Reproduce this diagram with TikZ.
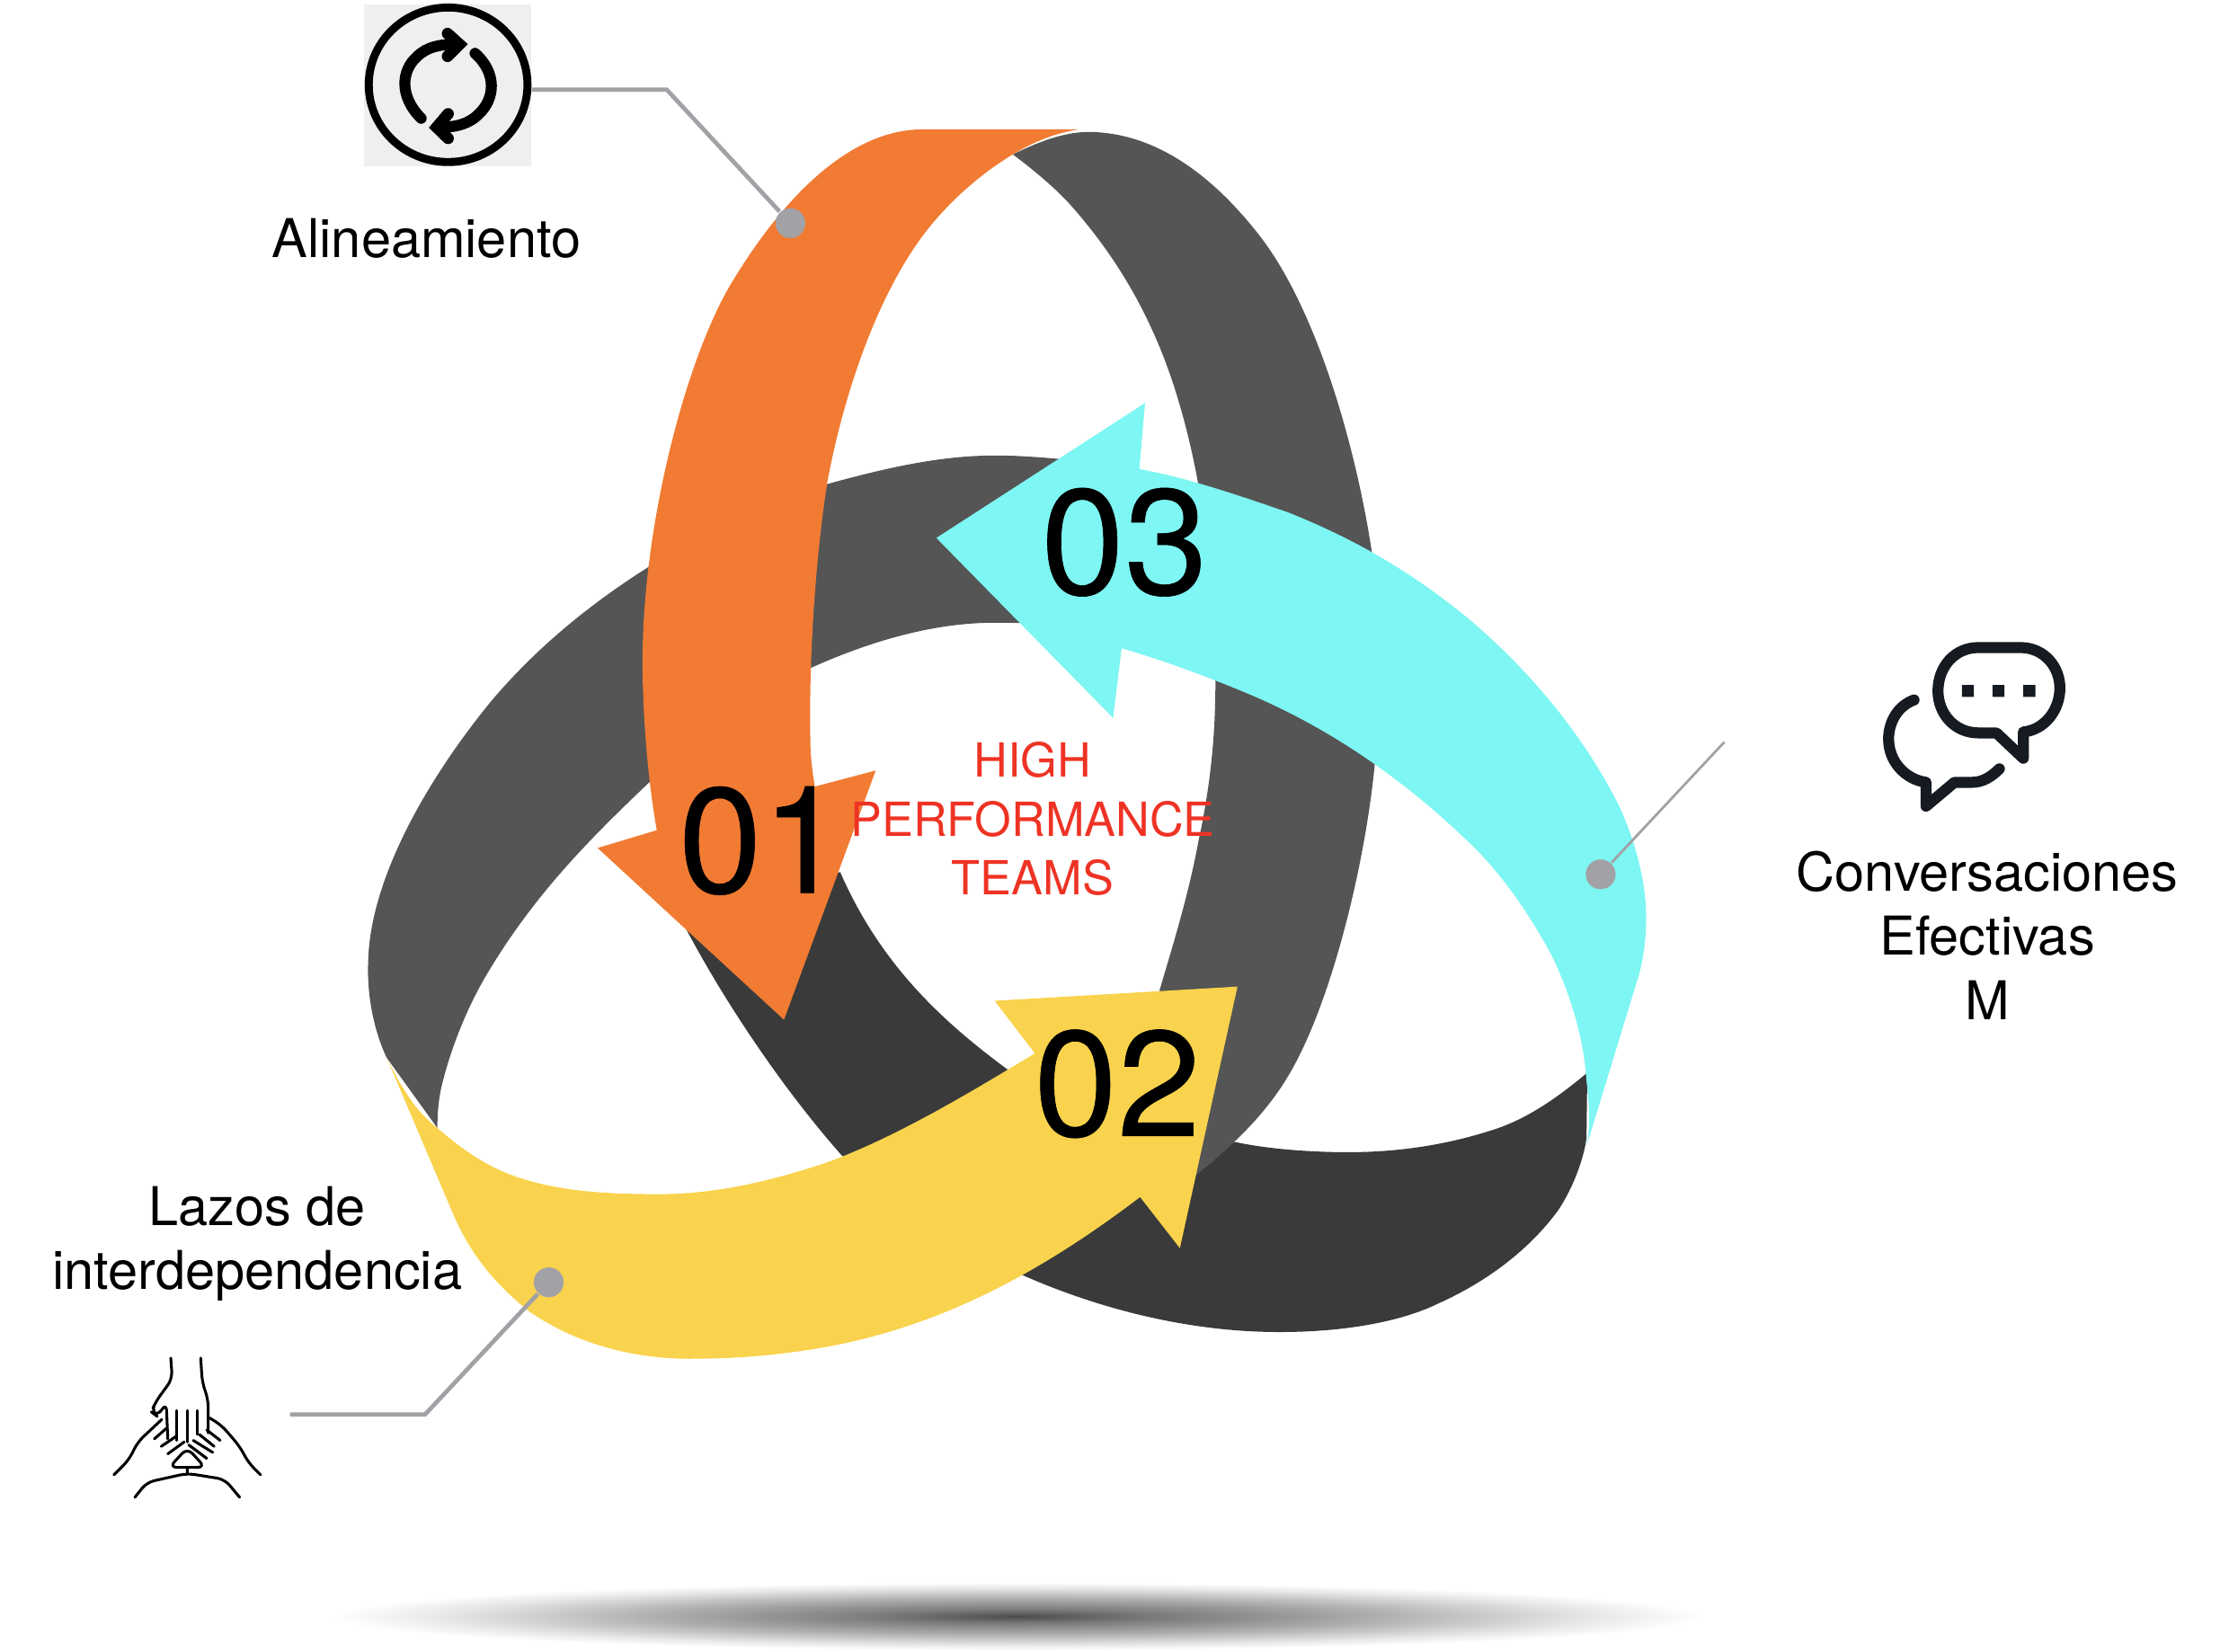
\documentclass[tikz,border=0pt]{standalone}
\usepackage{fontspec}
\setmainfont{TeX Gyre Heros}
\newfontfamily\numfont[FakeBold=0.35]{TeX Gyre Heros}
\definecolor{bandA}{HTML}{555555}
\definecolor{bandB}{HTML}{3A3A3A}
\definecolor{orangeA}{HTML}{F17B33}
\definecolor{yellowA}{HTML}{F9D34D}
\definecolor{cyanA}{HTML}{7EF6F3}
\definecolor{connC}{HTML}{A2A2A6}
\definecolor{redT}{HTML}{EE3324}
\definecolor{chatC}{HTML}{161B22}
\definecolor{iconBg}{HTML}{EFEFEF}
\pgfdeclareradialshading{floorshadow}{\pgfpoint{0bp}{0bp}}{color(0bp)=(black!70!white); color(5bp)=(black!52!white); color(13bp)=(black!32!white); color(21bp)=(black!9!white); color(25bp)=(white); color(50bp)=(white)}
\tikzset{
  conn/.style={draw=connC,line width=0.85pt},
  connthin/.style={draw=connC,line width=0.5pt},
  dotn/.style={circle,fill=connC,inner sep=0pt,minimum size=0.21cm},
  lab/.style={font=\fontsize{10.7pt}{12.8pt}\selectfont,align=center,text=black},
  numb/.style={font=\numfont\fontsize{30pt}{30pt}\selectfont,text=black,inner sep=0pt,anchor=base},
  redlab/.style={font=\fontsize{9.4pt}{11.8pt}\selectfont,align=center,text=redT},
  chat/.style={draw=chatC,line width=2.2pt,line cap=round,line join=round},
  handl/.style={draw=black,line width=0.55pt,line cap=round,line join=round,rounded corners=1.5pt},
}
\begin{document}
\begin{tikzpicture}[x=0.01cm,y=-0.01cm]
\useasboundingbox (0,0) rectangle (1568,1162);
% floor shadow
\shade[shading=floorshadow] (716,1137) ellipse [x radius=482,y radius=24];
% dark lower band
\fill[bandB] (482.6,653.4) .. controls (510,705) and (550,765) .. (592,812.6)
  .. controls (630,845) and (670,875) .. (715,895)
  .. controls (770,920) and (835,937) .. (900,937)
  .. controls (945,937) and (985,930) .. (1011.6,917)
  .. controls (1045,902) and (1075,880) .. (1096,851.5)
  .. controls (1107,835) and (1114,815) .. (1116,801)
  -- (1116.6,754.6)
  .. controls (1098,770) and (1078,785) .. (1053.8,793.6)
  .. controls (1020,805) and (985,810.5) .. (948.5,810.5)
  .. controls (920,810.5) and (890,808) .. (867.3,803)
  -- (709,752.5)
  .. controls (665,720) and (620,680) .. (591,613.4) -- cycle;
% left band
\fill[bandA] (272,744) .. controls (263,725) and (258,700) .. (259,676.6)
  .. controls (260,620) and (299,550) .. (345.7,493)
  .. controls (378,455) and (415,425) .. (455.3,399.4)
  .. controls (495,372) and (540,352) .. (582,340.5)
  .. controls (620,330) and (660,320.4) .. (700,320.4)
  .. controls (730,320.4) and (770,325) .. (800,330)
  -- (770,445) .. controls (735,438) and (720,438) .. (700,438)
  .. controls (655,438) and (610,452) .. (570,470)
  .. controls (530,488) and (490,520) .. (456,551)
  .. controls (415,590) and (375,630) .. (341.5,687)
  .. controls (328,710) and (316,740) .. (310,767)
  .. controls (308,778) and (307.7,785) .. (307.7,793.5) -- cycle;
% right band
\fill[bandA] (712.5,108.6) .. controls (730,100) and (748,93) .. (765,92.8)
  .. controls (810,92.8) and (850,120) .. (885,164.4)
  .. controls (925,215) and (953,310) .. (965,388)
  .. controls (972,440) and (972,490) .. (967,538.5)
  .. controls (960,610) and (936,707) .. (906.3,756.7)
  .. controls (890,784) and (868,805) .. (841,827)
  -- (815.7,696.6)
  .. controls (825,665) and (836,630) .. (843,592)
  .. controls (851,555) and (855,520) .. (855,480)
  .. controls (855,420) and (848,347) .. (830.4,286.7)
  .. controls (813,225) and (785,180) .. (752.4,143.4)
  .. controls (740,130) and (725,118) .. (712.5,108.6) -- cycle;
% orange arrow
\fill[orangeA] (758.8,91) -- (649,91)
  .. controls (600,91) and (553,135) .. (514,200)
  .. controls (482,254) and (452,370) .. (452,465)
  .. controls (452,505) and (456,550) .. (462,584)
  -- (420.4,596.5) -- (551.5,717.3) -- (616,542) -- (573.2,553.3)
  .. controls (571,540) and (570,530) .. (570,518.5)
  .. controls (569,460) and (574,390) .. (582,339)
  .. controls (593,280) and (615,213.4) .. (647,168.7)
  .. controls (665,143.5) and (690,122) .. (712.5,108.6)
  .. controls (725,101) and (740,94) .. (758.8,91) -- cycle;
% yellow arrow
\fill[yellowA] (272,744) -- (320.4,857.8)
  .. controls (333,885) and (350,905) .. (373,923)
  .. controls (405,945) and (445,955.8) .. (484.8,955.8)
  .. controls (520,955.8) and (550,953) .. (581.7,947.4)
  .. controls (665,932) and (735,893) .. (802,842)
  -- (830,878) -- (870.5,694) -- (699.7,704) -- (728,741)
  .. controls (680,770) and (630,800) .. (581.7,817.7)
  .. controls (545,830) and (505,840) .. (463.7,840)
  .. controls (425,840) and (390,838) .. (358.3,826)
  .. controls (338,818) and (322,806) .. (307.7,793.5)
  .. controls (290,780) and (280,760) .. (272,744) -- cycle;
% cyan arrow
\fill[cyanA] (1116.4,805) -- (1151,692)
  .. controls (1155,680) and (1158,665) .. (1158,645)
  .. controls (1158,620) and (1150,590) .. (1138,565)
  .. controls (1115,520) and (1080,475) .. (1032.8,435)
  .. controls (990,400) and (950,378) .. (906.3,360.5)
  .. controls (870,348) and (835,336) .. (801.5,330)
  -- (805.5,283.5) -- (658.7,378.4) -- (783,505) -- (789,456)
  .. controls (820,465) and (855,478) .. (885,491)
  .. controls (935,513) and (985,546) .. (1032.8,592)
  .. controls (1056,614) and (1076,643) .. (1091.7,672.4)
  .. controls (1105,700) and (1114,730) .. (1116,760)
  .. controls (1119,785) and (1118,795) .. (1116.4,805) -- cycle;
% numbers and labels
\node[numb] (n1) at (536,628) {01};
\node[numb] (n2) at (786,799) {02};
\node[numb] (n3) at (791,418) {03};
\node[redlab] (hp) at (726.5,576) {HIGH\\PERFORMANCE\\TEAMS};
\node[lab] (t1) at (300,168) {Alineamiento};
\node[lab] (t2) at (1398,658) {Conversaciones\\Efectivas\\M};
\node[lab] (t3) at (181,875) {Lazos de\\interdependencia};
% connectors
\node[dotn] (d1) at (556,157) {};
\node[dotn] (d2) at (1126,615) {};
\node[dotn] (d3) at (386,902) {};
\coordinate (i1) at (374,63);
\coordinate (b1) at (469,63);
\coordinate (i2) at (1213,522);
\coordinate (i3) at (204,995);
\coordinate (b3) at (299,995);
\draw[conn] (i1) -- (b1) -- (d1);
\draw[connthin] (i2) -- (d2);
\draw[conn] (i3) -- (b3) -- (d3);
% reload icon
\begin{scope}[x=0.002108cm,y=-0.002108cm,xshift=2.403cm,yshift=0cm]
\fill[iconBg] (75,15) rectangle (632,555);
\draw[black,line width=1.6pt] (355,283) ellipse [x radius=265,y radius=258];
\draw[black,line width=2.2pt,line cap=round] (265,395) .. controls (190,320) and (200,235) .. (250,190) .. controls (285,155) and (330,148) .. (380,148);
\draw[black,line width=2.3pt,line cap=round,line join=miter] (353,112) -- (393,148) -- (353,188);
\draw[black,line width=2.2pt,line cap=round] (445,178) .. controls (520,245) and (510,330) .. (460,378) .. controls (425,415) and (380,425) .. (325,425);
\draw[black,line width=2.3pt,line cap=round,line join=miter] (355,380) -- (317,425) -- (355,462);
\end{scope}
% chat icon
\begin{scope}[x=0.002108cm,y=-0.002108cm,xshift=13.025cm,yshift=-4.426cm]
\draw[chat] (420,60) -- (560,60) .. controls (640,60) and (692,125) .. (692,195) .. controls (692,270) and (640,335) .. (570,342) -- (570,430) -- (480,345) -- (420,345) .. controls (340,345) and (285,280) .. (285,205) .. controls (285,125) and (340,60) .. (420,60) -- cycle;
\fill[chatC] (365,185) rectangle (405,225) (467,185) rectangle (507,225) (570,185) rectangle (610,225);
\draw[chat] (205,235) .. controls (150,255) and (120,310) .. (120,365) .. controls (120,440) and (175,500) .. (245,510) -- (245,590) -- (340,510) -- (400,510) .. controls (435,510) and (465,490) .. (490,465);
\end{scope}
% hands icon
\begin{scope}[x=0.002108cm,y=-0.002108cm,xshift=0.569cm,yshift=-9.358cm]
\draw[handl] (300,90) -- (305,160) -- (250,235) -- (235,270) -- (255,285) -- (285,240) -- (290,360);
\draw[handl] (400,90) -- (405,170) -- (425,230) -- (425,340);
\draw[handl] (320,265) -- (320,365) (355,265) -- (355,370) (388,265) -- (388,345);
\draw[handl] (110,480) -- (160,430) -- (190,370) -- (270,295);
\draw[handl] (430,290) -- (470,315) -- (530,385) -- (560,440) -- (600,480);
\draw[handl] (180,555) -- (220,505) -- (355,475) -- (480,495) -- (530,555);
\draw[handl] (295,455) -- (355,390) -- (415,455) -- cycle (355,455) -- (355,475);
\draw[handl] (245,360) -- (285,325) (268,385) -- (320,350) (290,410) -- (345,370);
\draw[handl] (395,345) -- (445,385) (420,330) -- (465,365) (375,365) -- (440,405) (360,380) -- (420,425);
\end{scope}
\end{tikzpicture}
\end{document}
